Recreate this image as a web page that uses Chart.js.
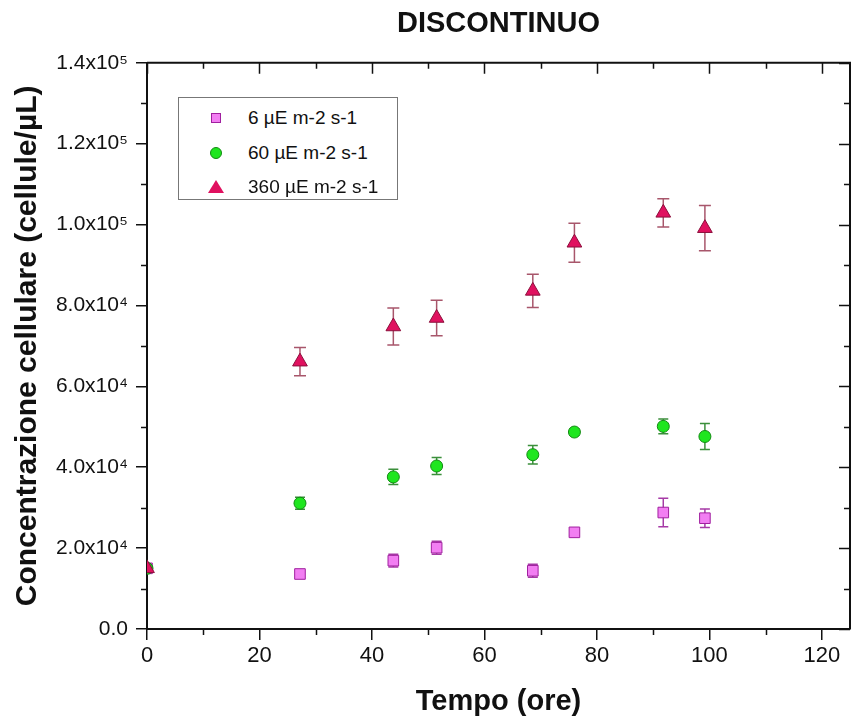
<!DOCTYPE html>
<html>
<head>
<meta charset="utf-8">
<script src="https://cdn.jsdelivr.net/npm/chart.js@4.4.0/dist/chart.umd.min.js"></script>
<style>
  html, body { margin: 0; padding: 0; background: #fff; }
  #wrap { position: relative; width: 856px; height: 721px; }
  #legend {
    position: absolute; left: 178px; top: 97px; width: 220px; height: 103px;
    border: 1px solid #777; box-sizing: border-box; background: #fff;
    font-family: "Liberation Sans", Arial, sans-serif; font-size: 19px; color: #111;
  }
  .row { position: absolute; left: 0; width: 100%; height: 34px; }
  .row span.txt { position: absolute; left: 69px; top: 0; line-height: 34px; white-space: nowrap; }
  .mk { position: absolute; box-sizing: border-box; }
</style>
</head>
<body>
<div id="wrap">
  <canvas id="chart" width="856" height="721"></canvas>
  <div id="legend"></div>
</div>
<script>
// tempo (ore)
const tempo = [0, 27.2, 43.8, 51.5, 68.6, 76.0, 91.8, 99.2];

// 6 µE m-2 s-1
const luce6 = [15000, 13600, 16900, 20100, 14400, 23900, 28800, 27400];
const err6 = [0, 1000, 1600, 1600, 1600, 800, 3500, 2300];

// 60 µE m-2 s-1
const luce60 = [15000, 31100, 37600, 40300, 43100, 48700, 50100, 47600];
const err60 = [0, 1500, 1900, 2100, 2300, 800, 1800, 3200];

// 360 µE m-2 s-1
const luce360 = [15000, 66100, 74800, 76900, 83600, 95500, 102900, 99100];
const err360 = [0, 3500, 4600, 4400, 4100, 4800, 3500, 5600];

const seriesNames = ['6 µE m-2 s-1', '60 µE m-2 s-1', '360 µE m-2 s-1'];

// assi
const xTicks = [0, 20, 40, 60, 80, 100, 120];
const xMinor = [10, 30, 50, 70, 90, 110];
const yTicks = [0, 20000, 40000, 60000, 80000, 100000, 120000, 140000];
const yTickLabels = ['0.0', '2.0x10⁴', '4.0x10⁴', '6.0x10⁴', '8.0x10⁴', '1.0x10⁵', '1.2x10⁵', '1.4x10⁵'];
const yMinor = [10000, 30000, 50000, 70000, 90000, 110000, 130000];

const FONT = '"Liberation Sans", Arial, sans-serif';

const styles = [
    { shape: 'rect', radius: 7.5, fill: '#f27ef2', border: '#a0209f', errColor: '#a63aa6', cap: 10 },
    { shape: 'circle', radius: 6, fill: '#1fe61f', border: '#138a13', errColor: '#3b8f3b', cap: 10 },
    { shape: 'triangle', radius: 8.5, fill: '#e0115f', border: '#8c0f3c', errColor: '#a8566b', cap: 12 }
];

const valori = [luce6, luce60, luce360];
const errori = [err6, err60, err360];

const toPoints = function (ys) {
    return tempo.map((t, i) => ({ x: t, y: ys[i] }));
};

// barre d'errore, disegnate sotto i marker
const errorBars = {
    id: 'errorBars',
    beforeDatasetsDraw(chart) {
        const ctx = chart.ctx;
        const xs = chart.scales.x;
        const ys = chart.scales.y;
        const area = chart.chartArea;
        ctx.save();
        ctx.beginPath();
        ctx.rect(area.left, area.top, area.right - area.left, area.bottom - area.top);
        ctx.clip();
        valori.forEach((serie, s) => {
            const st = styles[s];
            ctx.strokeStyle = st.errColor;
            ctx.lineWidth = 1.5;
            serie.forEach((v, i) => {
                const e = errori[s][i];
                if (!e) return;
                const px = xs.getPixelForValue(tempo[i]);
                const top = ys.getPixelForValue(v + e);
                const bot = ys.getPixelForValue(v - e);
                const h = st.cap / 2;
                ctx.beginPath();
                ctx.moveTo(px, top); ctx.lineTo(px, bot);
                ctx.moveTo(px - h, top); ctx.lineTo(px + h, top);
                ctx.moveTo(px - h, bot); ctx.lineTo(px + h, bot);
                ctx.stroke();
            });
        });
        ctx.restore();
    }
};

// cornice superiore/destra + tacche minori e speculari
const frame = {
    id: 'frame',
    afterDraw(chart) {
        const ctx = chart.ctx;
        const xs = chart.scales.x;
        const ys = chart.scales.y;
        const a = chart.chartArea;
        ctx.save();
        ctx.strokeStyle = '#111';
        ctx.lineWidth = 2;
        ctx.beginPath();
        ctx.moveTo(a.left, a.top); ctx.lineTo(a.right, a.top); ctx.lineTo(a.right, a.bottom);
        ctx.stroke();
        ctx.lineWidth = 1.5;
        ctx.beginPath();
        xMinor.forEach(v => {
            const px = Math.round(xs.getPixelForValue(v)) + 0.5;
            ctx.moveTo(px, a.bottom); ctx.lineTo(px, a.bottom + 6);
            ctx.moveTo(px, a.top); ctx.lineTo(px, a.top + 6);
        });
        xTicks.forEach(v => {
            const px = Math.round(xs.getPixelForValue(v)) + 0.5;
            ctx.moveTo(px, a.top); ctx.lineTo(px, a.top + 11);
        });
        yMinor.forEach(v => {
            const py = Math.round(ys.getPixelForValue(v)) + 0.5;
            ctx.moveTo(a.left - 6, py); ctx.lineTo(a.left, py);
            ctx.moveTo(a.right - 6, py); ctx.lineTo(a.right, py);
        });
        yTicks.forEach(v => {
            const py = Math.round(ys.getPixelForValue(v)) + 0.5;
            ctx.moveTo(a.right - 11, py); ctx.lineTo(a.right, py);
        });
        ctx.stroke();
        ctx.restore();
    }
};

const datasets = valori.map((serie, s) => ({
    label: seriesNames[s],
    data: toPoints(serie),
    pointStyle: styles[s].shape,
    pointRadius: styles[s].radius,
    pointBackgroundColor: styles[s].fill,
    pointBorderColor: styles[s].border,
    pointBorderWidth: 1,
    showLine: false,
    order: 3 - s
}));

const axisGrid = { display: true, drawOnChartArea: false, drawTicks: true, tickLength: 11, color: '#111', lineWidth: 1.5 };
const axisBorder = { display: true, color: '#111', width: 2 };

new Chart(document.getElementById('chart'), {
    type: 'scatter',
    data: { datasets: datasets },
    options: {
        responsive: false,
        animation: false,
        layout: { autoPadding: false, padding: { top: 0, right: 6, left: 0, bottom: 0 } },
        plugins: {
            legend: { display: false },
            tooltip: { enabled: false },
            title: {
                display: true,
                fullSize: false,
                text: 'DISCONTINUO',
                color: '#111',
                font: { family: FONT, size: 29, weight: 'bold' },
                padding: { top: 7, bottom: 21 }
            }
        },
        scales: {
            x: {
                type: 'linear',
                min: 0,
                max: 125,
                afterBuildTicks: s => { s.ticks = xTicks.map(v => ({ value: v })); },
                afterFit: s => { s.height = 92; s.paddingLeft = 0; s.paddingRight = 0; },
                grid: axisGrid,
                border: axisBorder,
                ticks: {
                    color: '#111',
                    font: { family: FONT, size: 22 },
                    padding: 3,
                    maxRotation: 0,
                    autoSkip: false,
                    callback: v => String(v)
                },
                title: {
                    display: true,
                    text: 'Tempo (ore)',
                    color: '#111',
                    font: { family: FONT, size: 29, weight: 'bold' },
                    padding: { top: 0, bottom: 2 }
                }
            },
            y: {
                type: 'linear',
                min: 0,
                max: 140000,
                afterBuildTicks: s => { s.ticks = yTicks.map(v => ({ value: v })); },
                afterFit: s => { s.width = 147; },
                grid: axisGrid,
                border: axisBorder,
                ticks: {
                    color: '#111',
                    font: { family: FONT, size: 21 },
                    padding: 8,
                    autoSkip: false,
                    callback: v => yTickLabels[yTicks.indexOf(v)]
                },
                title: {
                    display: true,
                    text: 'Concentrazione cellulare (cellule/µL)',
                    color: '#111',
                    font: { family: FONT, size: 30, weight: 'bold' },
                    padding: { top: 10, bottom: 0 }
                }
            }
        }
    },
    plugins: [errorBars, frame]
});

// legenda HTML
function renderLegend() {
    const box = document.getElementById('legend');
    let html = '';
    seriesNames.forEach((name, s) => {
        const st = styles[s];
        const top = 3 + s * 34.5;
        let mk = '';
        if (st.shape === 'rect') {
            mk = `<div class="mk" style="left:32px;top:12px;width:10px;height:10px;background:${st.fill};border:1px solid ${st.border}"></div>`;
        } else if (st.shape === 'circle') {
            mk = `<div class="mk" style="left:31px;top:11px;width:12px;height:12px;border-radius:50%;background:${st.fill};border:1px solid ${st.border}"></div>`;
        } else {
            mk = `<div class="mk" style="left:29px;top:10px;width:0;height:0;border-left:8px solid transparent;border-right:8px solid transparent;border-bottom:13px solid ${st.fill}"></div>`;
        }
        html += `<div class="row" style="top:${top}px">${mk}<span class="txt">${name}</span></div>`;
    });
    box.innerHTML = html;
}
renderLegend();
</script>
</body>
</html>
